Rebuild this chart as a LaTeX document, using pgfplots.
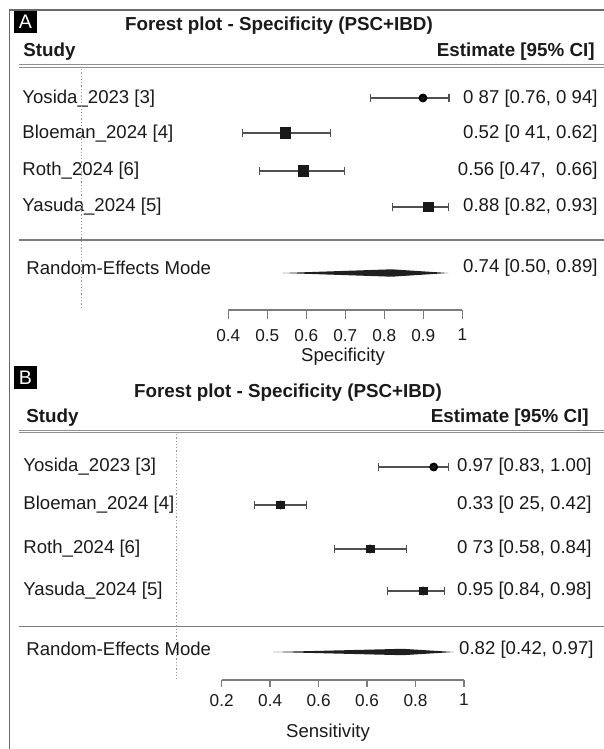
\documentclass[border=0pt]{standalone}
\usepackage{fontspec}
\setmainfont{Liberation Sans}
\usepackage{pgfplots}
\usepackage{pgfplotstable}
\pgfplotsset{compat=1.18}
\definecolor{txt}{HTML}{1A1A1A}
\definecolor{ln}{HTML}{7C7C7C}
\definecolor{ci}{HTML}{505050}
\definecolor{frm}{HTML}{6A6A6A}

% Panel A: estimate, CI and row position (rows in pixel units, downward negative)
% cls = marker class (d: small dot, a/b/c/e: squares of decreasing size)
\pgfplotstableread{
study est lo hi y cls
Yosida 0.899 0.765 0.966 -98 d
Bloeman 0.547 0.437 0.662 -133 a
Roth 0.592 0.480 0.697 -171 a
Yasuda 0.913 0.822 0.965 -207 b
}\tabA
% Panel B
\pgfplotstableread{
study est lo hi y cls
Yosida 0.900 0.719 0.949 -467 d
Bloeman 0.394 0.307 0.479 -505 c
Roth 0.690 0.573 0.809 -549 c
Yasuda 0.866 0.747 0.936 -591 e
}\tabB

\pgfplotsset{
  forest/.style={
    scale only axis, clip=false,
    axis y line=none, axis x line*=bottom,
    xtick align=outside,
    axis line style={ln, line width=0.75pt},
    major tick style={ln, line width=0.75pt},
    tick label style={font=\fontsize{8.6}{10}\selectfont, text=txt},
    /pgf/number format/assume math mode=true,
  },
  cibars/.style={only marks, mark=none, forget plot,
    error bars/.cd, x dir=both, x explicit,
    error bar style={draw=ci, line width=0.75pt},
    error mark options={draw=ci, line width=0.6pt, mark size=2.2pt, rotate=90}},
  boxes/.style={scatter, only marks, point meta=explicit symbolic,
    scatter/classes={
      d={mark=*, mark size=0.9pt, draw=black!90, fill=black!90, line width=0pt},
      a={mark=square*, mark size=2.55pt, draw=black!90, fill=black!90, line width=0pt},
      b={mark=square*, mark size=2.35pt, draw=black!90, fill=black!90, line width=0pt},
      c={mark=square*, mark size=1.95pt, draw=black!90, fill=black!90, line width=0pt},
      e={mark=square*, mark size=1.8pt, draw=black!90, fill=black!90, line width=0pt}}},
}

\begin{document}
\begin{tikzpicture}[x=0.5pt, y=-0.5pt, font=\fontsize{9.3}{11}\selectfont, text=txt]
\useasboundingbox (0,0) rectangle (604,749);
% frame
\draw[frm, line width=0.75pt] (9.5,749) -- (9.5,10) -- (604,10);

% ================= Panel A =================
\fill[black] (14,11) rectangle (37,33);
\node[white, font=\fontsize{9.8}{11}\selectfont] at (25.5,22) {A};
\node[font=\fontsize{9.4}{11}\selectfont\bfseries] at (279,26) {Forest plot - Specificity (PSC+IBD)};
\node[anchor=west, inner sep=0pt, font=\fontsize{9.4}{11}\selectfont\bfseries] at (23,52) {Study};
\node[anchor=east, inner sep=0pt, font=\fontsize{9.4}{11}\selectfont\bfseries] at (595,52) {Estimate [95\% CI]};
\draw[ln!85, line width=0.5pt] (19,65) -- (604,65);
\draw[ln!85, line width=0.5pt] (19,67.2) -- (604,67.2);
\draw[ln, line width=0.75pt] (19,240) -- (604,240);

\node[anchor=west, inner sep=0pt] at (22,99) {Yosida\_2023 [3]};
\node[anchor=west, inner sep=0pt] at (22,134) {Bloeman\_2024 [4]};
\node[anchor=west, inner sep=0pt] at (22,171) {Roth\_2024 [6]};
\node[anchor=west, inner sep=0pt] at (22,207) {Yasuda\_2024 [5]};
\node[anchor=west, inner sep=0pt] at (26,268) {Random-Effects Mode};

\node[anchor=east, inner sep=0pt] at (598,99) {0 87 [0.76, 0 94]};
\node[anchor=east, inner sep=0pt] at (598,134) {0.52 [0 41, 0.62]};
\node[anchor=east, inner sep=0pt] at (598,171) {0.56 [0.47,\ \ 0.66]};
\node[anchor=east, inner sep=0pt] at (598,207) {0.88 [0.82, 0.93]};
\node[anchor=east, inner sep=0pt] at (598,268) {0.74 [0.50, 0.89]};

\begin{axis}[forest, at={(114.15pt,-155pt)}, anchor=south west,
  width=117pt, height=122pt,
  xmin=0.4, xmax=1, ymin=-310, ymax=-66,
  major tick length=4.5pt,
  xticklabel style={yshift=-1.5pt},
  xtick={0.4,0.5,0.6,0.7,0.8,0.9,1}, xticklabels={0.4,0.5,0.6,0.7,0.8,0.9,1}]
\addplot[ln!80, densely dotted, line width=0.65pt] coordinates {(0.024,-69) (0.024,-308)};
\addplot[cibars] table[x=est, y=y, x error plus expr=\thisrow{hi}-\thisrow{est}, x error minus expr=\thisrow{est}-\thisrow{lo}] {\tabA};
\addplot[boxes] table[x=est, y=y, meta=cls] {\tabA};
\addplot[fill=black!88, draw=none] coordinates {(0.539,-273) (0.819,-269.3) (0.964,-273) (0.819,-276.7)};
\end{axis}
\node at (343,357) {Specificity};

% ================= Panel B =================
\fill[black] (14,366) rectangle (37,389);
\node[white, font=\fontsize{9.8}{11}\selectfont] at (25.5,377.5) {B};
\node[font=\fontsize{9.4}{11}\selectfont\bfseries] at (288,393) {Forest plot - Specificity (PSC+IBD)};
\node[anchor=west, inner sep=0pt, font=\fontsize{9.4}{11}\selectfont\bfseries] at (26,418) {Study};
\node[anchor=east, inner sep=0pt, font=\fontsize{9.4}{11}\selectfont\bfseries] at (589,418) {Estimate [95\% CI]};
\draw[ln!85, line width=0.5pt] (19,430) -- (604,430);
\draw[ln!85, line width=0.5pt] (19,432.2) -- (604,432.2);
\draw[ln, line width=0.75pt] (19,626.5) -- (604,626.5);

\node[anchor=west, inner sep=0pt] at (23,467) {Yosida\_2023 [3]};
\node[anchor=west, inner sep=0pt] at (23,505) {Bloeman\_2024 [4]};
\node[anchor=west, inner sep=0pt] at (23,549) {Roth\_2024 [6]};
\node[anchor=west, inner sep=0pt] at (23,591) {Yasuda\_2024 [5]};
\node[anchor=west, inner sep=0pt] at (26,649) {Random-Effects Mode};

\node[anchor=east, inner sep=0pt] at (592,467) {0.97 [0.83, 1.00]};
\node[anchor=east, inner sep=0pt] at (592,505) {0.33 [0 25, 0.42]};
\node[anchor=east, inner sep=0pt] at (592,549) {0 73 [0.58, 0.84]};
\node[anchor=east, inner sep=0pt] at (592,591) {0.95 [0.84, 0.98]};
\node[anchor=east, inner sep=0pt] at (594,650) {0.82 [0.42, 0.97]};

\begin{axis}[forest, at={(110.85pt,-340pt)}, anchor=south west,
  width=121.15pt, height=124.5pt,
  xmin=0.2, xmax=1, ymin=-680, ymax=-431,
  major tick length=3.5pt,
  xtick={0.2,0.36,0.52,0.68,0.84,1},
  xticklabels={0.2,\raisebox{-2pt}{0.4},\raisebox{-2pt}{0.6},\raisebox{-2pt}{0.6},0.8,1}]
\addplot[ln!80, densely dotted, line width=0.65pt] coordinates {(0.0514,-434) (0.0514,-679)};
\addplot[cibars] table[x=est, y=y, x error plus expr=\thisrow{hi}-\thisrow{est}, x error minus expr=\thisrow{est}-\thisrow{lo}] {\tabB};
\addplot[boxes] table[x=est, y=y, meta=cls] {\tabB};
\addplot[fill=black!88, draw=none] coordinates {(0.370,-652) (0.798,-648.8) (0.967,-652) (0.798,-655.2)};
\end{axis}
\node at (328,733) {Sensitivity};
\end{tikzpicture}
\end{document}
